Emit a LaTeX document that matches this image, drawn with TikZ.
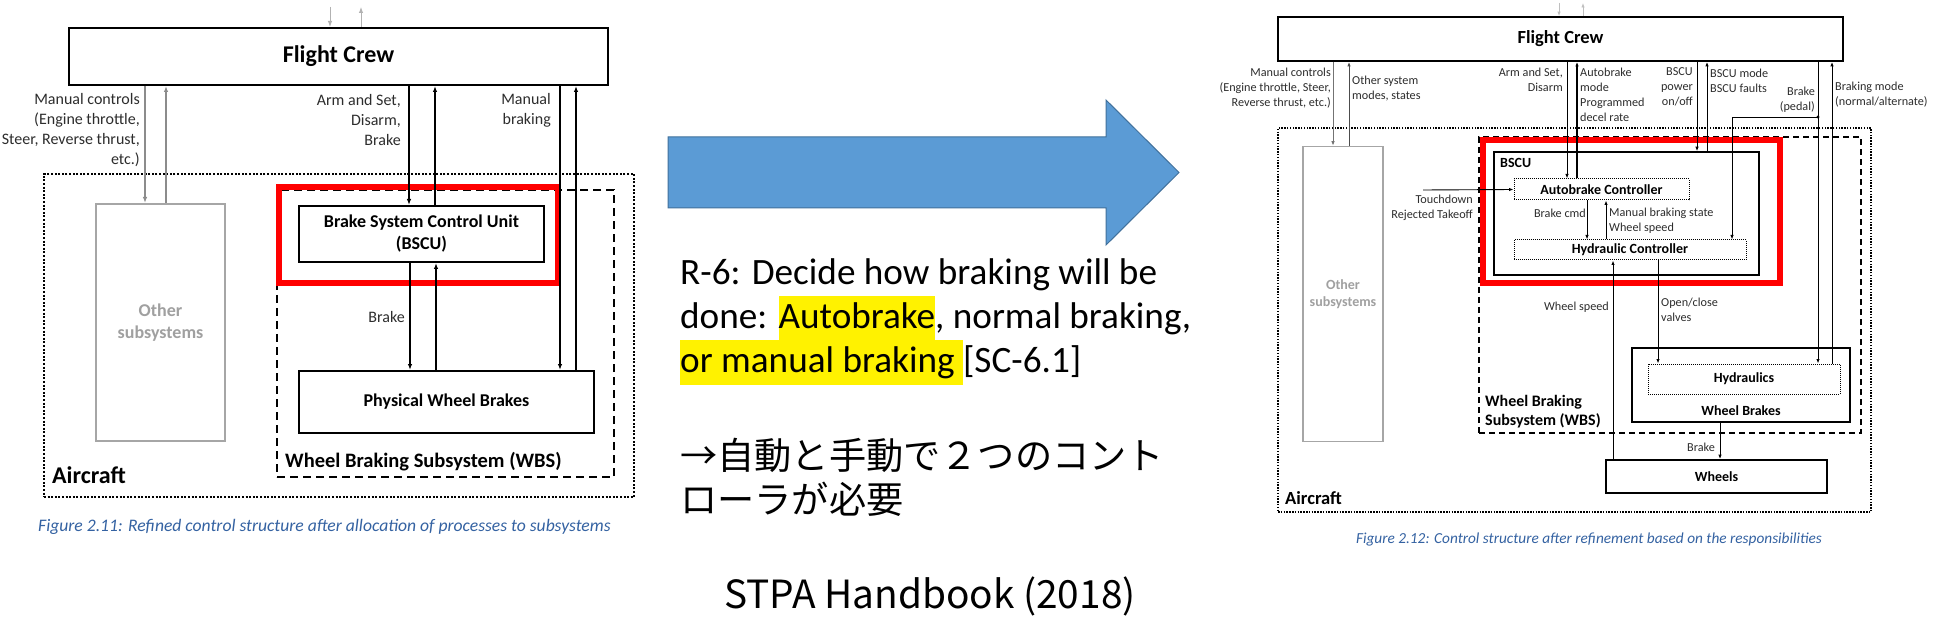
\documentclass[tikz,border=0pt]{standalone}
\usepackage{fontspec}
\setmainfont{Carlito}
\newfontfamily\jpfont{Noto Sans CJK JP}
\usetikzlibrary{arrows.meta}
\definecolor{capblue}{RGB}{52,98,162}
\definecolor{arrowblue}{RGB}{91,155,213}
\definecolor{arrowedge}{RGB}{65,113,156}
\definecolor{redbox}{RGB}{255,0,0}
\definecolor{greybox}{RGB}{166,166,166}
\definecolor{greytext}{RGB}{160,160,160}
\definecolor{labtext}{RGB}{45,45,45}
\newcommand{\myfs}[2]{\fontsize{#1}{#2}\selectfont}
\newcommand{\hlbox}[1]{{\setlength{\fboxsep}{0pt}\colorbox{yellow}{\rule[-12.5pt]{0pt}{45pt}#1}}}
\begin{document}
\begin{tikzpicture}[x=1pt,y=-1pt,
  box/.style={draw, inner sep=0pt, align=center, text=black},
  dotbox/.style={draw, inner sep=0pt, dash pattern=on 2pt off 1.6pt, line width=2pt},
  larr/.style={line width=1.2pt, -{Latex[length=6pt,width=4.5pt]}},
  rarr/.style={line width=0.9pt, -{Latex[length=4.5pt,width=3.4pt]}},
  llab/.style={inner sep=0pt, align=right, anchor=east, text=labtext, font=\myfs{16}{20}},
  rlabr/.style={inner sep=0pt, align=right, anchor=east, text=labtext, font=\myfs{12.2}{15}},
  rlabl/.style={inner sep=0pt, align=left, anchor=west, text=labtext, font=\myfs{12.2}{15}},
  boldlab/.style={inner sep=0pt, align=left, anchor=west, text=black},
  capt/.style={inner sep=0pt, text=capblue},
  bigtxt/.style={inner sep=0pt, anchor=base west, font=\myfs{37.2}{44.5}},
  jptxt/.style={inner sep=0pt, anchor=base west, font=\jpfont\myfs{37.2}{44}}
]
\useasboundingbox (0,0) rectangle (1940,644);
\fill[white] (0,0) rectangle (1940,644);

% ================= LEFT DIAGRAM =================
\node[box, line width=2pt, minimum width=539pt, minimum height=57pt, font=\myfs{24}{28}\bfseries] (lfc) at (338.5,56.5) {Flight Crew};
\node[dotbox, minimum width=590pt, minimum height=323pt] (lac) at (339,335.5) {};
\node[box, draw=greybox, line width=2pt, minimum width=129pt, minimum height=237pt, text=greytext, font=\myfs{18}{22}\bfseries] (loth) at (160.5,322.5) {Other\\subsystems};
\node[draw, inner sep=0pt, line width=2.5pt, dash pattern=on 8pt off 5pt, minimum width=337pt, minimum height=287pt] (lwbs) at (445.5,333.5) {};
\node[box, line width=2pt, minimum width=245pt, minimum height=56pt, font=\myfs{18}{22}\bfseries] (lbscu) at (421.5,234) {Brake System Control Unit\\(BSCU)};
\node[box, line width=2pt, minimum width=295pt, minimum height=62pt, font=\myfs{18}{22}\bfseries] (lpwb) at (446.5,402) {Physical Wheel Brakes};
\node[draw=redbox, inner sep=0pt, line width=5.5pt, minimum width=279pt, minimum height=96pt] (lred) at (418.5,235) {};

\coordinate (lt1) at (330,7);
\coordinate (lt2) at (361,7);
\coordinate (lx1) at (145,0);
\coordinate (lx2) at (166,0);
\coordinate (lx3) at (409,0);
\coordinate (lx4) at (435,0);
\coordinate (lx5) at (560,0);
\coordinate (lx6) at (576,0);
\coordinate (lx7) at (410,0);
\coordinate (lx8) at (436,0);

\draw[larr, draw=black!30, line width=1pt] (lt1) -- (lfc.north -| lt1);
\draw[larr, draw=black!30, line width=1pt] (lfc.north -| lt2) -- (lt2);
\draw[larr, draw=black!45] (lfc.south -| lx1) -- (loth.north -| lx1);
\draw[larr, draw=black!45] (loth.north -| lx2) -- (lfc.south -| lx2);
\draw[larr] (lfc.south -| lx3) -- (lbscu.north -| lx3);
\draw[larr] (lbscu.north -| lx4) -- (lfc.south -| lx4);
\draw[larr] (lfc.south -| lx5) -- (lpwb.north -| lx5);
\draw[larr] (lpwb.north -| lx6) -- (lfc.south -| lx6);
\draw[larr] (lbscu.south -| lx7) -- (lpwb.north -| lx7);
\draw[larr] (lpwb.north -| lx8) -- (lbscu.south -| lx8);

\node[llab] (lmc) at (140,130) {Manual controls\\(Engine throttle,\\Steer, Reverse thrust,\\etc.)};
\node[llab] (las) at (401,120) {Arm and Set,\\Disarm,\\Brake};
\node[llab] (lmb) at (551,110) {Manual\\braking};
\node[llab] (lbr) at (405,317) {Brake};
\node[boldlab, font=\myfs{20.5}{24}\bfseries] (lwbsl) at (285,462) {Wheel Braking Subsystem (WBS)};
\node[boldlab, font=\myfs{24}{28}\bfseries] (lacl) at (52,475) {Aircraft};
\node[capt, anchor=west, font=\myfs{17.6}{20}\itshape] (lcap) at (38,527) {Figure 2.11: Refined control structure after allocation of processes to subsystems};

% ================= MIDDLE =================
\path[fill=arrowblue, draw=arrowedge, line width=1pt] (668,137) -- (1106,137) -- (1106,100) -- (1179,172.5) -- (1106,245) -- (1106,208) -- (668,208) -- cycle;
\node[bigtxt] (r6a) at (680,284) {R-6: Decide how braking will be};
\node[bigtxt] (r6b) at (680,328) {done: \hlbox{Autobrake}, normal braking,};
\node[bigtxt] (r6c) at (680,372) {\hlbox{or manual braking\ }[SC-6.1]};
\node[jptxt] (jpa) at (680,469) {→自動と手動で２つのコント};
\node[jptxt] (jpb) at (680,513) {ローラが必要};
\node[inner sep=0pt, anchor=base west, font=\jpfont\myfs{38.8}{42}] (stpa) at (724,608) {STPA Handbook (2018)};

% ================= RIGHT DIAGRAM =================
\node[box, line width=1.7pt, minimum width=565pt, minimum height=44pt, font=\myfs{18.5}{22}\bfseries] (rfc) at (1560.5,39) {Flight Crew};
\node[draw, inner sep=0pt, line width=1.5pt, dash pattern=on 1.5pt off 1.3pt, minimum width=593pt, minimum height=384pt] (rac) at (1574.5,320) {};
\node[box, draw=greybox, line width=1.5pt, minimum width=80pt, minimum height=295pt, text=greytext, font=\myfs{14}{17}\bfseries] (roth) at (1343,294) {Other\\subsystems};
\node[draw, inner sep=0pt, line width=2pt, dash pattern=on 6pt off 4pt, minimum width=382pt, minimum height=296pt] (rwbs) at (1670,285) {};
\node[box, line width=1.5pt, minimum width=265pt, minimum height=123pt] (rbscu) at (1626.5,213.5) {};
\node[box, line width=1pt, dash pattern=on 1pt off 1pt, minimum width=175pt, minimum height=21pt, font=\myfs{14}{17}\bfseries] (rabc) at (1601.5,189.5) {Autobrake Controller};
\node[box, line width=1pt, dash pattern=on 1pt off 1pt, minimum width=232pt, minimum height=20pt, font=\myfs{14}{17}\bfseries] (rhc) at (1630,250) {Hydraulic Controller};
\node[draw=redbox, inner sep=0pt, line width=5.5pt, minimum width=297pt, minimum height=143pt] (rred) at (1631.5,211.5) {};
\node[box, line width=1.7pt, minimum width=218pt, minimum height=74pt] (rwb) at (1741,385) {};
\node[box, line width=1pt, dash pattern=on 1pt off 1pt, minimum width=192pt, minimum height=30pt, font=\myfs{14}{17}\bfseries] (rhyd) at (1744,379) {Hydraulics};
\node[inner sep=0pt, font=\myfs{14}{17}\bfseries] (rwbt) at (1741,411) {Wheel Brakes};
\node[box, line width=1.7pt, minimum width=221pt, minimum height=33pt, font=\myfs{14}{17}\bfseries] (rwh) at (1716.5,476.5) {Wheels};

\coordinate (rt1) at (1559,3);
\coordinate (rt2) at (1583,3);
\coordinate (rx1) at (1333,0);
\coordinate (rx2) at (1349,0);
\coordinate (rx3) at (1567,0);
\coordinate (rx4) at (1577,0);
\coordinate (rx5) at (1697,0);
\coordinate (rx6) at (1707,0);
\coordinate (rx7) at (1818,0);
\coordinate (rx8) at (1832,0);
\coordinate (rx9) at (1732,0);
\coordinate (rx10) at (1587,0);
\coordinate (rx11) at (1606,0);
\coordinate (rx12) at (1613,0);
\coordinate (rx13) at (1658,0);
\coordinate (rx14) at (1720,0);
\coordinate (rjn) at (1818,117);
\coordinate (rtd) at (1423,190);

\draw[rarr, draw=black!25, line width=0.8pt] (rt1) -- (rfc.north -| rt1);
\draw[rarr, draw=black!25, line width=0.8pt] (rfc.north -| rt2) -- (rt2);
\draw[rarr, draw=black!55] (rfc.south -| rx1) -- (roth.north -| rx1);
\draw[rarr, draw=black!70] (roth.north -| rx2) -- (rfc.south -| rx2);
\draw[rarr] (rfc.south -| rx3) -- (rabc.north -| rx3);
\draw[rarr, line width=1.5pt] (rabc.north -| rx4) -- (rfc.south -| rx4);
\draw[rarr] (rfc.south -| rx5) -- (rbscu.north -| rx5);
\draw[rarr] (rbscu.north -| rx6) -- (rfc.south -| rx6);
\draw[rarr] (rfc.south -| rx7) -- (rhyd.north -| rx7);
\draw[rarr] (rhyd.north -| rx8) -- (rfc.south -| rx8);
\fill (rjn) circle (1.6pt);
\draw[rarr] (rjn) -| (rhc.north -| rx9);
\draw[rarr] (rtd) -- (rabc.west);
\draw[rarr] (rabc.south -| rx10) -- (rhc.north -| rx10);
\draw[rarr] (rhc.north -| rx11) -- (rabc.south -| rx11);
\draw[rarr] (rwh.north -| rx12) -- (rhc.south -| rx12);
\draw[rarr] (rhc.south -| rx13) -- (rhyd.north -| rx13);
\draw[rarr] (rwb.south -| rx14) -- (rwh.north -| rx14);

\node[rlabr] (rmc) at (1331,88) {Manual controls\\(Engine throttle, Steer,\\Reverse thrust, etc.)};
\node[rlabl] (ros) at (1352,88.5) {Other system\\modes, states};
\node[rlabr] (ras) at (1563,79.5) {Arm and Set,\\Disarm};
\node[rlabl] (ram) at (1580,94.5) {Autobrake\\mode\\Programmed\\decel rate};
\node[rlabr] (rbp) at (1693,87) {BSCU\\power\\on/off};
\node[rlabl] (rbm) at (1710,80.5) {BSCU mode\\BSCU faults};
\node[rlabr] (rbped) at (1815,99.5) {Brake\\(pedal)};
\node[rlabl] (rbmode) at (1835,95) {Braking mode\\(normal/alternate)};
\node[rlabr] (rtdl) at (1473,207.5) {Touchdown\\Rejected Takeoff};
\node[rlabr] (rbc) at (1586,213) {Brake cmd};
\node[rlabl] (rmbs) at (1609,221) {Manual braking state\\Wheel speed};
\node[rlabr] (rws) at (1609,307) {Wheel speed};
\node[rlabl] (rocv) at (1661,309.5) {Open/close\\valves};
\node[rlabr] (rbrk) at (1715,447) {Brake};
\node[boldlab, font=\myfs{14}{17}\bfseries] (rbscul) at (1500,163) {BSCU};
\node[boldlab, font=\myfs{16}{19}\bfseries] (rwbsl) at (1485,411.5) {Wheel Braking\\Subsystem (WBS)};
\node[boldlab, font=\myfs{18.5}{22}\bfseries] (racl) at (1285,498) {Aircraft};
\node[capt, font=\myfs{15.3}{18}\itshape] (rcap) at (1589,539) {Figure 2.12: Control structure after refinement based on the responsibilities};
\end{tikzpicture}
\end{document}
